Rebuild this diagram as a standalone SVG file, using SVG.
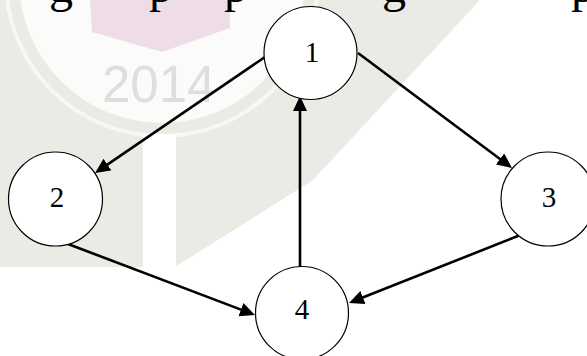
<svg xmlns="http://www.w3.org/2000/svg" width="587" height="356" viewBox="0 0 587 356">
  <style>
    .node circle { fill: #ffffff; stroke: #000000; stroke-width: 1.2; }
    .node text { font-family: "Liberation Serif", "Times New Roman", serif; font-size: 29px; fill: #000000; text-anchor: middle; }
    .edge { stroke: #000000; stroke-width: 2.6; fill: none; marker-end: url(#arrow); }
    .cut { font-family: "Liberation Serif", "Times New Roman", serif; font-size: 48px; fill: #000000; }
  </style>
  <defs>
    <marker id="arrow" markerUnits="userSpaceOnUse" markerWidth="16" markerHeight="15" refX="5" refY="7" orient="auto">
      <path d="M0,0 L15,7 L0,14 Z" fill="#000000"/>
    </marker>
  </defs>
  <rect width="587" height="356" fill="#ffffff"/>
  <g id="watermark">
    <polygon points="0,0 480,0 313,180 175,267 0,267" fill="#ebeae4"/>
    <circle cx="162" cy="-20" r="156" fill="none" stroke="#f7f7f4" stroke-width="4"/>
    <circle cx="162" cy="-20" r="143" fill="#fbfbf9"/>
    <rect x="143" y="134" width="33" height="140" fill="#ffffff"/>
    <polygon points="90,0 230,0 230,28 162,52 92,32" fill="#eedde7"/>
    <text x="102" y="102" font-family="Liberation Sans, Arial, sans-serif" font-size="51" fill="#dedede">2014</text>
  </g>
  <g id="cut-text">
    <text class="cut" x="49" y="2">g</text>
    <text class="cut" x="149" y="2">p</text>
    <text class="cut" x="224" y="2">p</text>
    <text class="cut" x="382" y="2">g</text>
    <text class="cut" x="571" y="2">p</text>
  </g>
  <g id="connectors">
    <line class="edge" x1="265" y1="57" x2="103.3" y2="167.4"/>
    <line class="edge" x1="358" y1="53" x2="504" y2="162"/>
    <line class="edge" x1="300" y1="267" x2="300" y2="106"/>
    <line class="edge" x1="68" y1="244" x2="245.6" y2="311.4"/>
    <line class="edge" x1="523" y1="234" x2="358.3" y2="299.3"/>
  </g>
  <g id="node1" class="node">
    <circle cx="310.5" cy="53" r="46.5"/>
    <text x="312" y="62">1</text>
  </g>
  <g id="node2" class="node">
    <circle cx="55.5" cy="199" r="47"/>
    <text x="57" y="207">2</text>
  </g>
  <g id="node3" class="node">
    <circle cx="548" cy="199" r="47"/>
    <text x="549" y="207">3</text>
  </g>
  <g id="node4" class="node">
    <circle cx="302" cy="313" r="46.5"/>
    <text x="302" y="319">4</text>
  </g>
</svg>
